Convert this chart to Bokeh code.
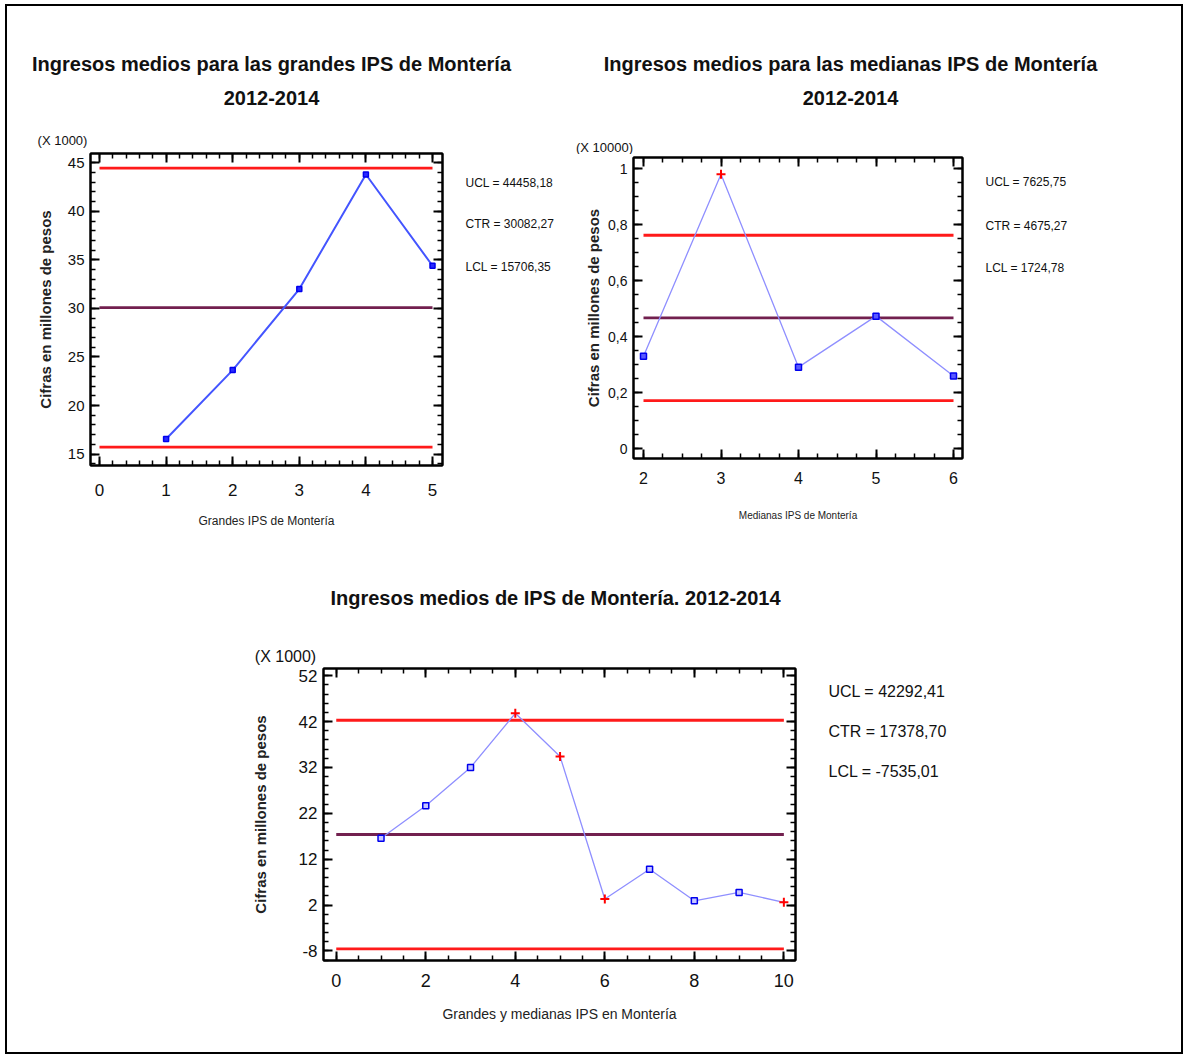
from bokeh.plotting import figure
from bokeh.models import (FixedTicker, LinearAxis, Range1d, Spacer,
                          CustomJSTickFormatter)
from bokeh.layouts import column, row
from bokeh.embed import file_html
from bokeh.resources import INLINE
from bokeh.core.properties import value

# ---------------- data ----------------
# Grandes IPS (values in x1000)
grandes_x = [1, 2, 3, 4, 5]
grandes_y = [16.55, 23.65, 32.0, 43.8, 34.4]
grandes_out = [False, False, False, False, False]
grandes_ucl, grandes_ctr, grandes_lcl = 44458.18, 30082.27, 15706.35

# Medianas IPS (values in x10000)
medianas_x = [2, 3, 4, 5, 6]
medianas_y = [0.331, 0.980, 0.292, 0.474, 0.260]
medianas_out = [False, True, False, False, False]
medianas_ucl, medianas_ctr, medianas_lcl = 7625.75, 4675.27, 1724.78

# Grandes y medianas (values in x1000)
todas_x = [1, 2, 3, 4, 5, 6, 7, 8, 9, 10]
todas_y = [16.55, 23.65, 32.0, 43.8, 34.4, 3.31, 9.80, 2.92, 4.74, 2.60]
todas_out = [False, False, False, True, True, True, False, False, False, True]
todas_ucl, todas_ctr, todas_lcl = 42292.41, 17378.70, -7535.01

grandes_xticks = [0, 1, 2, 3, 4, 5]
grandes_yticks = [15, 20, 25, 30, 35, 40, 45]
medianas_xticks = [2, 3, 4, 5, 6]
medianas_yticks = [0, 0.2, 0.4, 0.6, 0.8, 1]
medianas_ylabels = {0: "0", 0.2: "0,2", 0.4: "0,4", 0.6: "0,6", 0.8: "0,8", 1: "1"}
todas_xticks = [0, 2, 4, 6, 8, 10]
todas_yticks = [-8, 2, 12, 22, 32, 42, 52]
todas_ylabels = {-8: "-8"}

titles = {
    "grandes": ["Ingresos medios para las grandes IPS de Montería", "2012-2014"],
    "medianas": ["Ingresos medios para las medianas IPS de Montería", "2012-2014"],
    "todas": ["Ingresos medios de IPS de Montería. 2012-2014"],
}

SANS = "Liberation Sans"
RED = "#ff1a1a"
CTRC = "#72204f"
TXT = "#111111"


def fmt(v):
    return f"{v:.2f}".replace(".", ",")


def minor_list(lo, hi, step):
    out = []
    v = lo
    while v <= hi + 1e-9:
        out.append(round(v, 6))
        v += step
    return out


def text_fig(w, h):
    """Blank figure whose data units are pixels (y measured from the top)."""
    t = figure(width=w, height=h, x_range=Range1d(0, w), y_range=Range1d(h, 0),
               x_axis_type=None, y_axis_type=None, output_backend="svg",
               toolbar_location=None, min_border=0, frame_align=False)
    t.grid.visible = False
    t.outline_line_color = None
    return t


def put(t, x, y, text, size, align="center", bold=False):
    t.text(x=[x], y=[y], text=[text], text_font=value(SANS),
           text_font_size=f"{size}px", text_align=align, text_baseline="middle",
           text_font_style="bold" if bold else "normal", text_color=TXT)


def make_panel(width, height, borders, xr, yr, xticks, xminor, yticks, yminor,
               xlabel, ylabel, fonts):
    p = figure(width=width, height=height, x_range=Range1d(*xr), y_range=Range1d(*yr),
               output_backend="svg", toolbar_location=None, frame_align=False,
               min_border_left=borders[0], min_border_right=borders[1],
               min_border_top=borders[2], min_border_bottom=borders[3],
               x_axis_label=xlabel, y_axis_label=ylabel)
    p.grid.visible = False
    p.outline_line_color = "black"
    p.outline_line_width = 2
    xt = FixedTicker(ticks=xticks, minor_ticks=xminor)
    yt = FixedTicker(ticks=yticks, minor_ticks=yminor)
    p.xaxis.ticker = xt
    p.yaxis.ticker = yt
    for ax in (p.xaxis[0], p.yaxis[0]):
        ax.major_tick_in = 9
        ax.major_tick_out = 0
        ax.minor_tick_in = 5
        ax.minor_tick_out = 0
        ax.axis_line_width = 2
        ax.major_tick_line_width = 2
        ax.minor_tick_line_width = 1.5
        ax.major_label_text_font = SANS
        ax.major_label_text_color = TXT
        ax.axis_label_text_color = "#222222"
        ax.axis_label_text_font = SANS
    p.xaxis.major_label_text_font_size = f"{fonts['xtick']}px"
    p.yaxis.major_label_text_font_size = f"{fonts['ytick']}px"
    p.xaxis.major_label_standoff = fonts["xstand"]
    p.yaxis.major_label_standoff = fonts["ystand"]
    p.xaxis.axis_label_text_font_style = "normal"
    p.xaxis.axis_label_text_font_size = f"{fonts['xlab']}px"
    p.xaxis.axis_label_standoff = fonts["xlabstand"]
    p.yaxis.axis_label_text_font_style = "bold"
    p.yaxis.axis_label_text_font_size = f"{fonts['ylab']}px"
    p.yaxis.axis_label_standoff = fonts["ylabstand"]
    blank = CustomJSTickFormatter(code="return ''")
    for loc, tk in (("right", yt), ("above", xt)):
        ax = LinearAxis(ticker=tk, formatter=blank, major_tick_in=9, major_tick_out=0,
                        minor_tick_in=5, minor_tick_out=0, axis_line_width=2,
                        major_tick_line_width=2, minor_tick_line_width=1.5,
                        major_label_text_font_size="1px", major_label_standoff=0)
        p.add_layout(ax, loc)
    return p


def limits(p, x0, x1, ucl, ctr, lcl, scale):
    p.segment(x0=[x0, x0], x1=[x1, x1], y0=[ucl / scale, lcl / scale],
              y1=[ucl / scale, lcl / scale], line_color=RED, line_width=2.8)
    p.segment(x0=[x0], x1=[x1], y0=[ctr / scale], y1=[ctr / scale],
              line_color=CTRC, line_width=2.8)


def points(p, xs, ys, outs, line_color, line_width, msize, fill):
    p.line(xs, ys, line_color=line_color, line_width=line_width)
    xin = [x for x, o in zip(xs, outs) if not o]
    yin = [y for y, o in zip(ys, outs) if not o]
    xo = [x for x, o in zip(xs, outs) if o]
    yo = [y for y, o in zip(ys, outs) if o]
    p.scatter(xin, yin, marker="square", size=msize, line_color="#0000ee",
              fill_color=fill, line_width=1.5)
    if xo:
        p.scatter(xo, yo, marker="cross", size=9, line_color="#ff0000", line_width=2)


# ---------------- panel A: grandes ----------------
tA = text_fig(563, 144)
put(tA, 264, 57, titles["grandes"][0], 20, bold=True)
put(tA, 264, 91, titles["grandes"][1], 20, bold=True)
put(tA, 55, 134, "(X 1000)", 13)

p1 = make_panel(453, 395, (83, 18, 3, 80), (-0.135, 5.15), (13.82, 45.96),
                grandes_xticks, minor_list(0, 5, 0.2), grandes_yticks, minor_list(14, 46, 1),
                "Grandes IPS de Montería", "Cifras en millones de pesos",
                dict(xtick=17, ytick=15, xstand=18, ystand=6, xlab=12, xlabstand=15,
                     ylab=15, ylabstand=11))
limits(p1, 0, 5, grandes_ucl, grandes_ctr, grandes_lcl, 1000)
points(p1, grandes_x, grandes_y, grandes_out, "#4455ff", 2, 5, "#2a2aff")

sA = text_fig(110, 395)
put(sA, 5, 32, "UCL = " + fmt(grandes_ucl), 12, align="left")
put(sA, 5, 73, "CTR = " + fmt(grandes_ctr), 12, align="left")
put(sA, 5, 116, "LCL = " + fmt(grandes_lcl), 12, align="left")

panelA = column(tA, row(p1, sA))

# ---------------- panel B: medianas ----------------
tB = text_fig(611, 148)
put(tB, 280, 57, titles["medianas"][0], 20, bold=True)
put(tB, 280, 91, titles["medianas"][1], 20, bold=True)
put(tB, 34, 141, "(X 10000)", 13)

p2 = make_panel(410, 391, (63, 18, 3, 87), (1.871, 6.116), (-0.034, 1.04),
                medianas_xticks, minor_list(2, 6, 0.25), medianas_yticks, minor_list(0, 1.05, 0.05),
                "Medianas IPS de Montería", "Cifras en millones de pesos",
                dict(xtick=16, ytick=14, xstand=13, ystand=6, xlab=10, xlabstand=23,
                     ylab=15, ylabstand=3))
p2.yaxis[0].major_label_overrides = medianas_ylabels
limits(p2, 2, 6, medianas_ucl, medianas_ctr, medianas_lcl, 10000)
points(p2, medianas_x, medianas_y, medianas_out, "#8f8fff", 1.3, 6, "#5a5aff")

sB = text_fig(201, 391)
put(sB, 5, 27, "UCL = " + fmt(medianas_ucl), 12, align="left")
put(sB, 5, 71, "CTR = " + fmt(medianas_ctr), 12, align="left")
put(sB, 5, 113, "LCL = " + fmt(medianas_lcl), 12, align="left")

panelB = column(tB, row(p2, sB))

# ---------------- panel C: todas ----------------
tC = text_fig(971, 120)
put(tC, 345, 52, titles["todas"][0], 20, bold=True)
put(tC, 75, 111, "(X 1000)", 16)

p3 = make_panel(603, 387, (113, 18, 3, 92), (-0.285, 10.26), (-10.09, 53.57),
                todas_xticks, minor_list(0, 10, 0.5), todas_yticks, minor_list(-10, 52, 2),
                "Grandes y medianas IPS en Montería", "Cifras en millones de pesos",
                dict(xtick=18, ytick=17, xstand=13, ystand=6, xlab=14, xlabstand=16,
                     ylab=15, ylabstand=27))
p3.yaxis[0].major_label_overrides = todas_ylabels
limits(p3, 0, 10, todas_ucl, todas_ctr, todas_lcl, 1000)
points(p3, todas_x, todas_y, todas_out, "#8f8fff", 1.3, 6, "#c8c8ff")

sC = text_fig(368, 387)
put(sC, 15, 26, "UCL = " + fmt(todas_ucl), 16, align="left")
put(sC, 15, 66, "CTR = " + fmt(todas_ctr), 16, align="left")
put(sC, 15, 106, "LCL = " + fmt(todas_lcl), 16, align="left")

panelC = column(tC, row(p3, sC))

inner = column(row(panelA, panelB), row(Spacer(width=203, height=507), panelC),
               styles={"border": "2px solid black"})
layout = column(Spacer(width=10, height=4), row(Spacer(width=5, height=10), inner))

open("out.html", "w").write(file_html(layout, INLINE))
